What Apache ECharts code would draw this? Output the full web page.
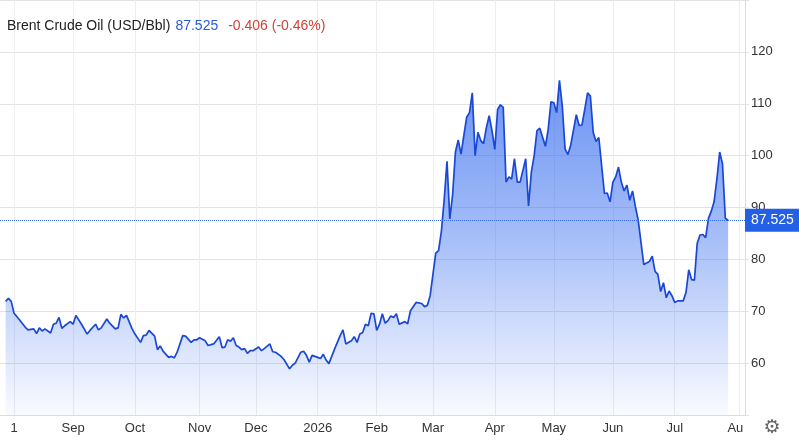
<!DOCTYPE html>
<html>
<head>
<meta charset="utf-8">
<title>Brent Crude Oil</title>
<script src="https://cdn.jsdelivr.net/npm/echarts@6/dist/echarts.min.js"></script>
<style>
  html, body { margin: 0; padding: 0; background: #fff; }
  #chart { width: 799px; height: 442px; }
</style>
</head>
<body>
<div id="chart"></div>
<script>
// trading sessions (weekdays, exchange holidays removed)
const firstDay = '2025-07-25'
const lastDay = '2026-08-05'
const holidays = ['2025-12-25', '2026-01-01', '2026-04-03']

// month labels on the time axis
const monthKeys = ['2025-08', '2025-09', '2025-10', '2025-11', '2025-12', '2026-01', '2026-02',
  '2026-03', '2026-04', '2026-05', '2026-06', '2026-07', '2026-08']
const monthLabels = ['1', 'Sep', 'Oct', 'Nov', 'Dec', '2026', 'Feb', 'Mar', 'Apr', 'May', 'Jun', 'Jul', 'Au']

// price readings: session number and close (USD/Bbl)
const priceSession = [
  2, 3, 4, 5, 7, 9, 10, 12, 13, 14, 15, 16, 18, 19, 20, 21, 22, 23, 25, 26, 27, 29,
  31, 32, 34, 35, 36, 38, 39, 41, 42, 43, 44, 45, 47, 48, 50, 51, 52, 53, 55, 56, 57, 58,
  60, 61, 62, 63, 65, 66, 68, 69, 70, 71, 73, 74, 76, 78, 79, 80, 81, 82, 83, 84, 85, 86,
  87, 88, 89, 90, 92, 93, 94, 96, 97, 98, 100, 101, 103, 104, 105, 107, 108, 109, 110, 111,
  113, 114, 115, 116, 117, 119, 120, 121, 122, 123, 125, 126, 127, 128, 129, 130, 131, 132,
  133, 134, 135, 136, 137, 138, 139, 140, 141, 142, 144, 145, 146, 148, 150, 151, 152, 153,
  154, 155, 156, 157, 158, 159, 160, 161, 162, 163, 164, 165, 166, 167, 168, 169, 170, 171,
  172, 173, 174, 175, 176, 177, 178, 179, 180, 181, 182, 183, 184, 185, 187, 188, 189, 190,
  191, 192, 194, 195, 196, 197, 198, 199, 200, 201, 202, 203, 205, 206, 207, 208, 209, 210,
  211, 212, 213, 215, 216, 217, 218, 219, 220, 221, 222, 223, 224, 225, 226, 227, 229, 231,
  232, 233, 234, 235, 236, 237, 238, 239, 240, 241, 243, 244, 245, 246, 247, 248, 249, 250,
  251, 252, 253, 254, 255, 256, 257, 258, 259
]
const priceValue = [
  71.9, 72.5, 71.9, 69.6, 68.3, 66.9, 66.4, 66.6, 65.7, 66.8, 66.2, 66.6, 65.8, 67.5, 67.7, 68.8, 66.7, 67.2, 68.0, 67.5, 69.2, 67.5,
  65.6, 66.3, 67.5, 66.4, 66.8, 68.5, 67.7, 66.6, 66.8, 69.4, 68.7, 69.2, 66.6, 65.6, 64.0, 65.3, 65.4, 66.3, 65.2, 62.6, 63.3, 62.3,
  61.1, 61.3, 61.0, 62.1, 65.3, 65.2, 64.0, 64.5, 64.5, 64.9, 64.3, 63.4, 63.7, 65.1, 63.0, 63.1, 64.5, 64.2, 64.9, 63.4, 63.1, 62.6,
  62.8, 61.9, 62.4, 62.4, 63.1, 62.4, 62.8, 63.7, 62.2, 62.1, 61.3, 60.7, 58.9, 59.6, 60.0, 62.1, 62.3, 61.5, 60.2, 61.5,
  61.1, 60.9, 61.7, 60.6, 59.9, 62.7, 64.0, 65.3, 66.4, 63.7, 64.3, 65.1, 64.0, 65.6, 65.9, 67.5, 67.2, 69.6,
  69.5, 66.3, 67.5, 69.5, 67.7, 68.2, 69.1, 68.8, 69.5, 67.5, 68.0, 67.6, 70.1, 71.7, 71.5, 70.9, 71.1, 73.0,
  77.1, 81.2, 81.7, 85.4, 91.5, 98.9, 87.8, 92.5, 100.7, 103.0, 100.3, 103.9, 107.4, 108.3, 112.1, 100.0, 104.5, 102.9,
  102.3, 105.4, 107.7, 104.8, 101.2, 108.9, 109.8, 109.3, 94.9, 95.9, 95.5, 99.4, 94.9, 94.9, 99.4, 90.3, 96.8, 100.0,
  104.8, 105.3, 101.8, 105.1, 110.4, 110.2, 108.3, 114.5, 109.6, 101.3, 100.2, 102.0, 107.9, 105.8, 105.9, 108.9, 112.1, 111.5,
  104.5, 102.7, 103.5, 92.7, 92.8, 91.1, 94.9, 95.9, 97.8, 94.9, 93.2, 94.3, 91.4, 93.2, 90.2, 87.6, 79.0, 79.6,
  80.6, 77.7, 77.1, 73.8, 75.5, 72.6, 73.9, 73.0, 71.7, 72.0, 72.0, 73.6, 78.0, 76.1, 76.0, 83.1, 84.7, 84.8,
  84.2, 87.9, 89.3, 91.1, 95.5, 100.7, 98.4, 87.931, 87.525
]

const lastPrice = 87.525
const change = -0.406
const changePct = -0.46

const sessions = []
for (let d = new Date(firstDay + 'T00:00:00Z'); d <= new Date(lastDay + 'T00:00:00Z'); d.setUTCDate(d.getUTCDate() + 1)) {
  const iso = d.toISOString().slice(0, 10)
  const wd = d.getUTCDay()
  if (wd === 0 || wd === 6 || holidays.includes(iso)) continue
  sessions.push(iso)
}

const isMonthStart = (i) => i > 0 && sessions[i].slice(0, 7) !== sessions[i - 1].slice(0, 7)

const chart = echarts.init(document.getElementById('chart'), null, { renderer: 'canvas' })

const titleFont = { fontSize: 14, fontWeight: 'normal', fontFamily: 'Liberation Sans' }

const option = {
  animation: false,
  backgroundColor: '#fff',
  textStyle: { fontFamily: 'Liberation Sans, Arial, sans-serif' },
  title: {
    left: 7,
    top: 17,
    padding: 0,
    text: '{a|Brent Crude Oil (USD/Bbl)} {b|' + lastPrice.toFixed(3) + '}  {c|' +
      change.toFixed(3) + ' (' + changePct.toFixed(2) + '%)}',
    textStyle: {
      fontWeight: 'normal',
      rich: {
        a: { ...titleFont, color: '#222' },
        b: { ...titleFont, color: '#2a5bd7' },
        c: { ...titleFont, color: '#d0453a' }
      }
    }
  },
  grid: { left: -1, right: 54, top: -4, bottom: 27 },
  xAxis: {
    type: 'category',
    data: sessions,
    boundaryGap: false,
    axisLine: { lineStyle: { color: '#dcdcdc' } },
    axisTick: { show: false },
    splitLine: {
      show: true,
      interval: (i) => isMonthStart(i),
      lineStyle: { color: '#ededed' }
    },
    axisLabel: {
      interval: (i) => isMonthStart(i),
      margin: 7,
      fontSize: 13,
      color: '#333',
      formatter: (v) => {
        const k = monthKeys.indexOf(v.slice(0, 7))
        const txt = k >= 0 ? monthLabels[k] : ''
        return k === monthKeys.length - 1 ? '{e|' + txt + '}' : txt
      },
      rich: {
        e: { fontSize: 13, color: '#333', padding: [0, 8, 0, 0] }
      }
    }
  },
  yAxis: {
    type: 'value',
    position: 'right',
    min: 50,
    max: 130,
    interval: 10,
    axisLine: { show: true, lineStyle: { color: '#dcdcdc' } },
    axisTick: { show: true, length: 4, lineStyle: { color: '#e3e3e3' } },
    splitLine: { lineStyle: { color: '#e3e3e3' } },
    axisLabel: {
      margin: 6,
      fontSize: 13,
      color: '#333',
      formatter: (v) => (v > 50 && v < 130 ? String(v) : '')
    }
  },
  series: [
    {
      type: 'line',
      data: priceSession.map((s, j) => [sessions[s], priceValue[j]]),
      symbol: 'none',
      lineStyle: { color: '#1a48d4', width: 1.7 },
      areaStyle: {
        color: new echarts.graphic.LinearGradient(0, 0, 0, 1, [
          { offset: 0, color: 'rgba(37, 96, 238, 0.97)' },
          { offset: 0.45, color: 'rgba(37, 96, 238, 0.6)' },
          { offset: 1, color: 'rgba(37, 96, 238, 0.04)' }
        ])
      },
      markLine: {
        silent: true,
        symbol: 'none',
        lineStyle: { color: '#3a6de3', type: 'dotted', width: 1 },
        label: {
          position: 'end',
          distance: 0,
          formatter: lastPrice.toFixed(3),
          color: '#fff',
          fontSize: 14,
          lineHeight: 16,
          backgroundColor: '#2460e6',
          padding: [4, 6, 3, 6]
        },
        data: [{ yAxis: lastPrice }]
      }
    }
  ],
  graphic: [
    {
      type: 'text',
      x: 772,
      y: 428,
      style: {
        text: '\u2699',
        fontSize: 19,
        fill: '#666',
        align: 'center',
        verticalAlign: 'middle',
        fontFamily: 'DejaVu Sans'
      }
    }
  ]
}

chart.setOption(option)
</script>
</body>
</html>
